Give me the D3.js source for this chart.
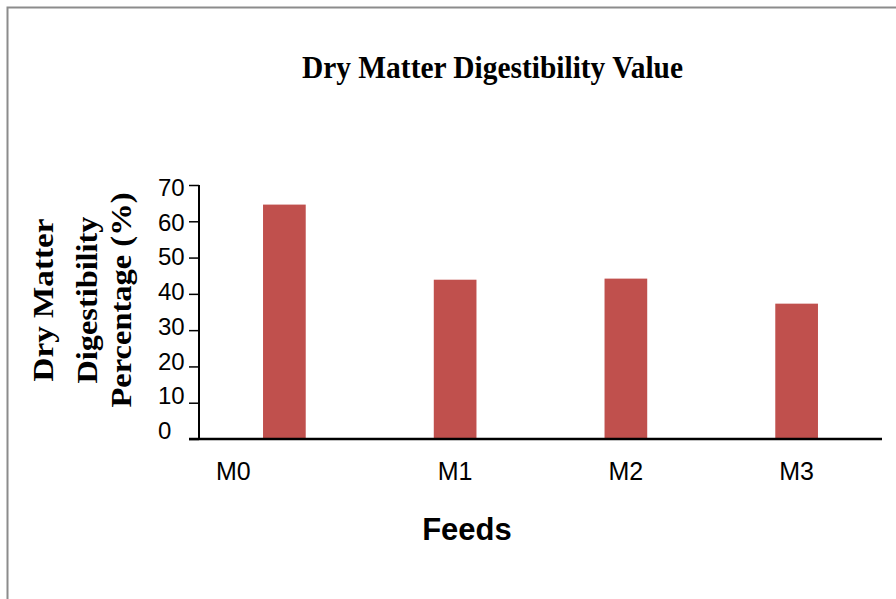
<!DOCTYPE html>
<html>
<head>
<meta charset="utf-8">
<style>
  body { margin: 0; background: #fff; }
  svg { display: block; }
  .title { font-family: "Liberation Serif", "Times New Roman", serif; font-weight: bold; }
  .tick-label { font-family: "Liberation Sans", Arial, sans-serif; }
</style>
</head>
<body>
<svg width="896" height="599"></svg>
<script src="https://cdnjs.cloudflare.com/ajax/libs/d3/7.8.5/d3.min.js"></script>
<script>

var feeds = ["M0", "M1", "M2", "M3"];
var digestibility = [64.6, 43.9, 44.2, 37.3];
var yTicks = [0, 10, 20, 30, 40, 50, 60, 70];
var yTitleLines = ["Dry Matter", "Digestibility", "Percentage (%)"];

var svg = d3.select("svg");

// grey frame, only the top and left edges show in the picture
svg.append("rect")
  .attr("x", 7.5).attr("y", 7.5)
  .attr("width", 1000).attr("height", 1000)
  .attr("fill", "none")
  .attr("stroke", "#8c8c8c")
  .attr("stroke-width", 2);

var x = d3.scaleBand()
  .domain(feeds)
  .range([199, 882])
  .paddingInner(0.75)
  .paddingOuter(0.375);

var y = d3.scaleLinear().domain([0, 70]).range([439, 185]);
// tick labels drift a bit from the tick marks in the original
var yLab = d3.scaleLinear().domain([0, 70]).range([439, 196]);

var g = svg.append("g");

g.selectAll(".bar")
  .data(feeds)
  .enter().append("rect")
  .attr("class", "bar")
  .attr("x", d => x(d))
  .attr("width", x.bandwidth())
  .attr("y", (d, i) => y(digestibility[i]))
  .attr("height", (d, i) => y(0) - y(digestibility[i]))
  .attr("fill", "#c0504d");

// y axis
var yAxis = g.append("g")
  .attr("transform", "translate(199,0)")
  .call(d3.axisLeft(y).tickValues(yTicks).tickSize(10).tickFormat(""));
yAxis.select(".domain").attr("stroke", "#000").attr("stroke-width", 2).attr("d", "M0," + y(70) + "V" + y(0));
yAxis.selectAll(".tick line").attr("stroke", "#000").attr("stroke-width", 1.5);

g.selectAll(".ylab")
  .data(yTicks)
  .enter().append("text")
  .attr("class", "tick-label")
  .attr("x", 158)
  .attr("y", d => yLab(d))
  .attr("font-size", 24)
  .attr("fill", "#000")
  .text(d => d);

// x axis line
g.append("line")
  .attr("x1", 189).attr("x2", 882)
  .attr("y1", y(0)).attr("y2", y(0))
  .attr("stroke", "#000").attr("stroke-width", 2.5);

g.selectAll(".xlab")
  .data(feeds)
  .enter().append("text")
  .attr("class", "tick-label")
  .attr("x", (d, i) => x(d) + x.bandwidth() / 2 - (i === 0 ? 51 : 0))
  .attr("y", 480)
  .attr("text-anchor", "middle")
  .attr("font-size", 25)
  .attr("fill", "#000")
  .text(d => d);

// titles
svg.append("text")
  .attr("class", "title")
  .attr("x", 302).attr("y", 78)
  .attr("font-size", 31)
  .attr("textLength", 381)
  .attr("lengthAdjust", "spacingAndGlyphs")
  .text("Dry Matter Digestibility Value");

svg.append("text")
  .attr("x", 467).attr("y", 540)
  .attr("text-anchor", "middle")
  .attr("font-family", "Liberation Sans, Arial, sans-serif")
  .attr("font-weight", "bold")
  .attr("font-size", 31)
  .text("Feeds");

var yTitleX = [53, 97, 131];
var yTitleLen = [163, 167, 215];
yTitleLines.forEach(function(t, i) {
  svg.append("text")
    .attr("class", "title")
    .attr("transform", "translate(" + yTitleX[i] + ",300) rotate(-90)")
    .attr("text-anchor", "middle")
    .attr("font-size", 30)
    .attr("textLength", yTitleLen[i])
    .attr("lengthAdjust", "spacingAndGlyphs")
    .text(t);
});

</script>
</body>
</html>
